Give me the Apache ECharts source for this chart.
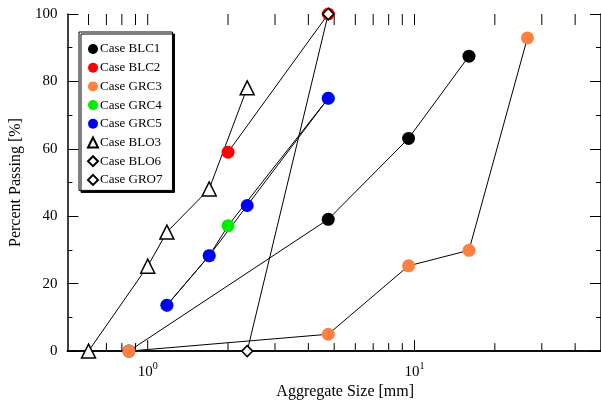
<!DOCTYPE html>
<html>
<head>
<meta charset="utf-8">
<script src="https://cdn.jsdelivr.net/npm/echarts@6/dist/echarts.min.js"></script>
<style>
  html, body { margin: 0; padding: 0; background: #fff; }
  #chart { width: 601px; height: 405px; }
</style>
</head>
<body>
<div id="chart"></div>
<script>
// aggregate size [mm] and percent passing for each case
var blc1X = [0.85, 4.75, 9.5, 16];
var blc1Y = [0, 39.1, 63.1, 87.5];
var blc2X = [2.0, 4.75];
var blc2Y = [59.0, 100];
var grc3X = [0.85, 4.75, 9.5, 16, 26.5];
var grc3Y = [0, 5.0, 25.3, 29.9, 92.9];
var grc4X = [1.18, 1.7, 2.0, 4.75];
var grc4Y = [13.6, 28.3, 37.2, 75];
var grc5X = [1.18, 1.7, 2.36, 4.75];
var grc5Y = [13.6, 28.3, 43.2, 75];
var blo3X = [0.6, 1.0, 1.18, 1.7, 2.36];
var blo3Y = [0, 25.2, 35.3, 48.1, 78.1];
var blo6X = [2.36, 4.75];
var blo6Y = [0, 100];
var gro7X = [4.75];
var gro7Y = [100];

// log axis ticks (1 = decade tick)
var xTicks = [0.6, 0.7, 0.8, 0.9, 1, 2, 3, 4, 5, 6, 7, 8, 9, 10, 20, 30, 40];
var xMajor = [1, 10];

var font = 'Liberation Serif';

function pairs(xs, ys) {
    return xs.map(function (x, i) { return [x, ys[i]]; });
}

function lineSeries(name, xs, ys, symbol, size, fill) {
    return {
        name: name,
        type: 'line',
        data: pairs(xs, ys),
        symbol: symbol,
        symbolSize: size,
        clip: false,
        lineStyle: { color: '#000', width: 1 },
        itemStyle: fill
            ? { color: fill }
            : { color: '#fff', borderColor: '#000', borderWidth: 1.5 },
        emphasis: { disabled: true }
    };
}

var myChart = echarts.init(document.getElementById('chart'));
myChart.setOption({
    animation: false,
    textStyle: { fontFamily: font, color: '#000' },
    grid: { left: 63.5, right: -0.5, top: 14, bottom: 52 },
    legend: {
        orient: 'vertical',
        left: 79,
        top: 32,
        padding: [10.5, 10, 4, 8],
        itemWidth: 10,
        itemHeight: 10,
        itemGap: 5.7,
        backgroundColor: '#fff',
        borderColor: '#000',
        borderWidth: 1,
        borderRadius: 0,
        shadowColor: '#000',
        shadowBlur: 0,
        shadowOffsetX: 2,
        shadowOffsetY: 2,
        textStyle: { fontFamily: font, fontSize: 13, color: '#000', padding: [0, 0, 0, -3] },
        data: [
            { name: 'Case BLC1', icon: 'circle' },
            { name: 'Case BLC2', icon: 'circle' },
            { name: 'Case GRC3', icon: 'circle' },
            { name: 'Case GRC4', icon: 'circle' },
            { name: 'Case GRC5', icon: 'circle' },
            { name: 'Case BLO3', icon: 'triangle' },
            { name: 'Case BLO6', icon: 'diamond' },
            { name: 'Case GRO7', icon: 'diamond' }
        ]
    },
    xAxis: [{
        type: 'log',
        logBase: 10,
        min: 0.5,
        max: 50,
        position: 'bottom',
        name: 'Aggregate Size [mm]',
        nameLocation: 'middle',
        nameGap: 31,
        nameTextStyle: { fontFamily: font, fontSize: 16, color: '#000', padding: [0, 0, 0, 22] },
        axisLine: { lineStyle: { color: '#000', width: 1.5 } },
        axisTick: { show: false },
        splitLine: { show: false },
        axisLabel: {
            margin: 10,
            showMinLabel: false,
            showMaxLabel: false,
            formatter: function (v) {
                var e = Math.log(v) / Math.LN10;
                if (Math.abs(e - Math.round(e)) > 1e-6) return '';
                return '{b|10}{s|' + Math.round(e) + '}';
            },
            rich: {
                b: { fontFamily: font, fontSize: 15, color: '#000', verticalAlign: 'bottom', lineHeight: 18 },
                s: { fontFamily: font, fontSize: 10, color: '#000', verticalAlign: 'top', lineHeight: 18, padding: [0, 0, 6, 0] }
            }
        }
    }, {
        type: 'log',
        logBase: 10,
        min: 0.5,
        max: 50,
        position: 'top',
        axisLine: { lineStyle: { color: '#000', width: 1.5 } },
        axisTick: { show: false },
        axisLabel: { show: false },
        splitLine: { show: false }
    }],
    yAxis: [{
        type: 'value',
        min: 0,
        max: 100,
        interval: 20,
        position: 'left',
        name: 'Percent Passing [%]',
        nameLocation: 'middle',
        nameGap: 37,
        nameTextStyle: { fontFamily: font, fontSize: 16, color: '#000' },
        axisLine: { show: true, lineStyle: { color: '#000', width: 1.5 } },
        axisTick: { show: true, inside: true, length: 11, lineStyle: { color: '#000', width: 1 } },
        minorTick: { show: true, splitNumber: 2, length: 5, lineStyle: { color: '#000', width: 1 } },
        splitLine: { show: false },
        axisLabel: { fontFamily: font, fontSize: 15, color: '#000', margin: 10 }
    }, {
        type: 'value',
        min: 0,
        max: 100,
        interval: 20,
        position: 'right',
        axisLine: { show: true, lineStyle: { color: '#000', width: 1.5 } },
        axisTick: { show: true, inside: true, length: 11, lineStyle: { color: '#000', width: 1 } },
        minorTick: { show: true, splitNumber: 2, length: 5, lineStyle: { color: '#000', width: 1 } },
        splitLine: { show: false },
        axisLabel: { show: false }
    }],
    series: [
        {
            type: 'custom',
            silent: true,
            xAxisIndex: 0,
            yAxisIndex: 0,
            clip: false,
            z: 1,
            data: xTicks.map(function (x) { return [x, 0]; }),
            encode: { x: 0, y: 1 },
            renderItem: function (params, api) {
                var x = api.value(0);
                var len = xMajor.indexOf(x) >= 0 ? 11 : 8;
                var b = api.coord([x, 0]);
                var t = api.coord([x, 100]);
                var st = { stroke: '#000', lineWidth: 1 };
                return {
                    type: 'group',
                    children: [
                        { type: 'line', shape: { x1: b[0], y1: b[1], x2: b[0], y2: b[1] - len }, style: st },
                        { type: 'line', shape: { x1: t[0], y1: t[1], x2: t[0], y2: t[1] + 11 }, style: st }
                    ]
                };
            }
        },
        lineSeries('Case BLC1', blc1X, blc1Y, 'circle', 13, '#000000'),
        lineSeries('Case BLC2', blc2X, blc2Y, 'circle', 13, '#ff0000'),
        lineSeries('Case GRC3', grc3X, grc3Y, 'circle', 13, '#ff8040'),
        lineSeries('Case GRC4', grc4X, grc4Y, 'circle', 13, '#00ee00'),
        lineSeries('Case GRC5', grc5X, grc5Y, 'circle', 13, '#0000ff'),
        lineSeries('Case BLO3', blo3X, blo3Y, 'triangle', 14, null),
        lineSeries('Case BLO6', blo6X, blo6Y, 'diamond', 11, null),
        lineSeries('Case GRO7', gro7X, gro7Y, 'diamond', 11, null)
    ]
});
</script>
</body>
</html>
